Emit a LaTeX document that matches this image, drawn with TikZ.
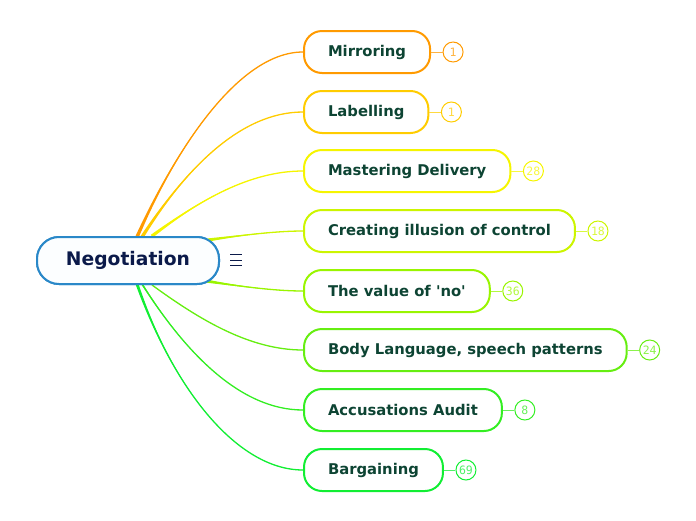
\documentclass[tikz,border=0pt]{standalone}
\usepackage{fontspec}
\setmainfont{DejaVu Sans}
\newfontfamily\badgefont{DejaVu Sans Mono}
\usetikzlibrary{calc}
\definecolor{rootblue}{HTML}{2A88C8}
\definecolor{rootfill}{HTML}{FCFEFF}
\definecolor{roottext}{HTML}{0B1A4A}
\definecolor{leaftext}{HTML}{0D4433}
\definecolor{cA}{HTML}{FF9A00}
\definecolor{cB}{HTML}{FFCC00}
\definecolor{cC}{HTML}{F5F500}
\definecolor{cD}{HTML}{CCF500}
\definecolor{cE}{HTML}{99F500}
\definecolor{cF}{HTML}{66EE11}
\definecolor{cG}{HTML}{33EE22}
\definecolor{cH}{HTML}{11EE33}
\tikzset{
  rootbox/.style={draw=rootblue, fill=rootfill, line width=2pt, rounded corners=22pt,
    minimum width=182pt, minimum height=47pt, inner sep=0pt,
    font=\fontsize{18.7}{22}\selectfont\bfseries, text=roottext},
  leafbox/.style={draw=#1, fill=white, line width=2pt, rounded corners=18pt,
    minimum height=42pt, inner xsep=24pt, inner ysep=0pt, anchor=west,
    font=\fontsize{14.8}{18}\selectfont\bfseries, text=leaftext},
  badge/.style={draw=#1, circle, line width=1pt, minimum size=20pt, inner sep=0pt,
    font=\badgefont\fontsize{11.5}{13}\selectfont, text=#1!75!white},
  link/.style={draw=#1, line width=1.3pt},
  taper/.style={fill=#1},
  stub/.style={draw=#1!75!white, line width=1pt},
}
\begin{document}
\begin{tikzpicture}[x=1pt,y=-1pt]
\useasboundingbox (0,0) rectangle (696,520);

\node[rootbox] (root) at (128,260.5) {Negotiation};
\draw[roottext, line width=1pt] (230,254.5) -- (242,254.5) (230,260) -- (242,260) (230,265.5) -- (242,265.5);

\node[leafbox=cA] (n1) at (303,52) {Mirroring};
\node[leafbox=cB] (n2) at (303,112) {Labelling};
\node[leafbox=cC] (n3) at (303,171) {Mastering Delivery};
\node[leafbox=cD] (n4) at (303,231) {Creating illusion of control};
\node[leafbox=cE] (n5) at (303,291) {The value of \textquotesingle no\textquotesingle};
\node[leafbox=cF] (n6) at (303,350) {Body Language, speech patterns};
\node[leafbox=cG] (n7) at (303,410) {Accusations Audit};
\node[leafbox=cH] (n8) at (303,470) {Bargaining};

\node[badge=cA] (b1) at ($(n1.east)+(22,0)$) {1};
\node[badge=cB] (b2) at ($(n2.east)+(22,0)$) {1};
\node[badge=cC] (b3) at ($(n3.east)+(22,0)$) {28};
\node[badge=cD] (b4) at ($(n4.east)+(22,0)$) {18};
\node[badge=cE] (b5) at ($(n5.east)+(22,0)$) {36};
\node[badge=cF] (b6) at ($(n6.east)+(22,0)$) {24};
\node[badge=cG] (b7) at ($(n7.east)+(22,0)$) {8};
\node[badge=cH] (b8) at ($(n8.east)+(22,0)$) {69};

\foreach \i/\c in {1/cA,2/cB,3/cC,4/cD,5/cE,6/cF,7/cG,8/cH}
  \draw[stub=\c] (n\i.east) -- (b\i.west);

\coordinate (s1) at ($(root.north west)+(101,1)$);
\coordinate (s2) at ($(root.north west)+(106,1)$);
\coordinate (s3) at ($(root.north west)+(116,0)$);
\coordinate (s4) at ($(root.north west)+(172,4)$);
\coordinate (s5) at ($(root.south west)+(170,-4)$);
\coordinate (s6) at ($(root.south west)+(116,0)$);
\coordinate (s7) at ($(root.south west)+(106,-1)$);
\coordinate (s8) at ($(root.south west)+(101,-1)$);

% tapered connectors: thin stroke plus a crescent that is widest at the root
\foreach \i/\c/\ax/\ay/\bx/\by/\dx/\dy in {
  1/cA/173/155/237/52/1.7/0.5,
  2/cB/185/170/240/112/1.5/0.9,
  3/cC/200/200/250/171/1.2/1.2,
  4/cD/250/234/280/231/0.1/1.6,
  5/cE/250/288/280/291/0.1/1.6,
  6/cF/200/320/250/350/1.2/1.2,
  7/cG/185/352/240/410/1.5/0.9,
  8/cH/173/388/237/470/1.7/0.5}{
  \fill[taper=\c] ($(s\i)+(-\dx,-\dy)$) .. controls (\ax,\ay) and (\bx,\by) .. (n\i.west)
     .. controls (\bx,\by) and (\ax,\ay) .. ($(s\i)+(\dx,\dy)$) -- cycle;
  \draw[link=\c] (s\i) .. controls (\ax,\ay) and (\bx,\by) .. (n\i.west);
}
\node[rootbox] at (root) {Negotiation};
\end{tikzpicture}
\end{document}
